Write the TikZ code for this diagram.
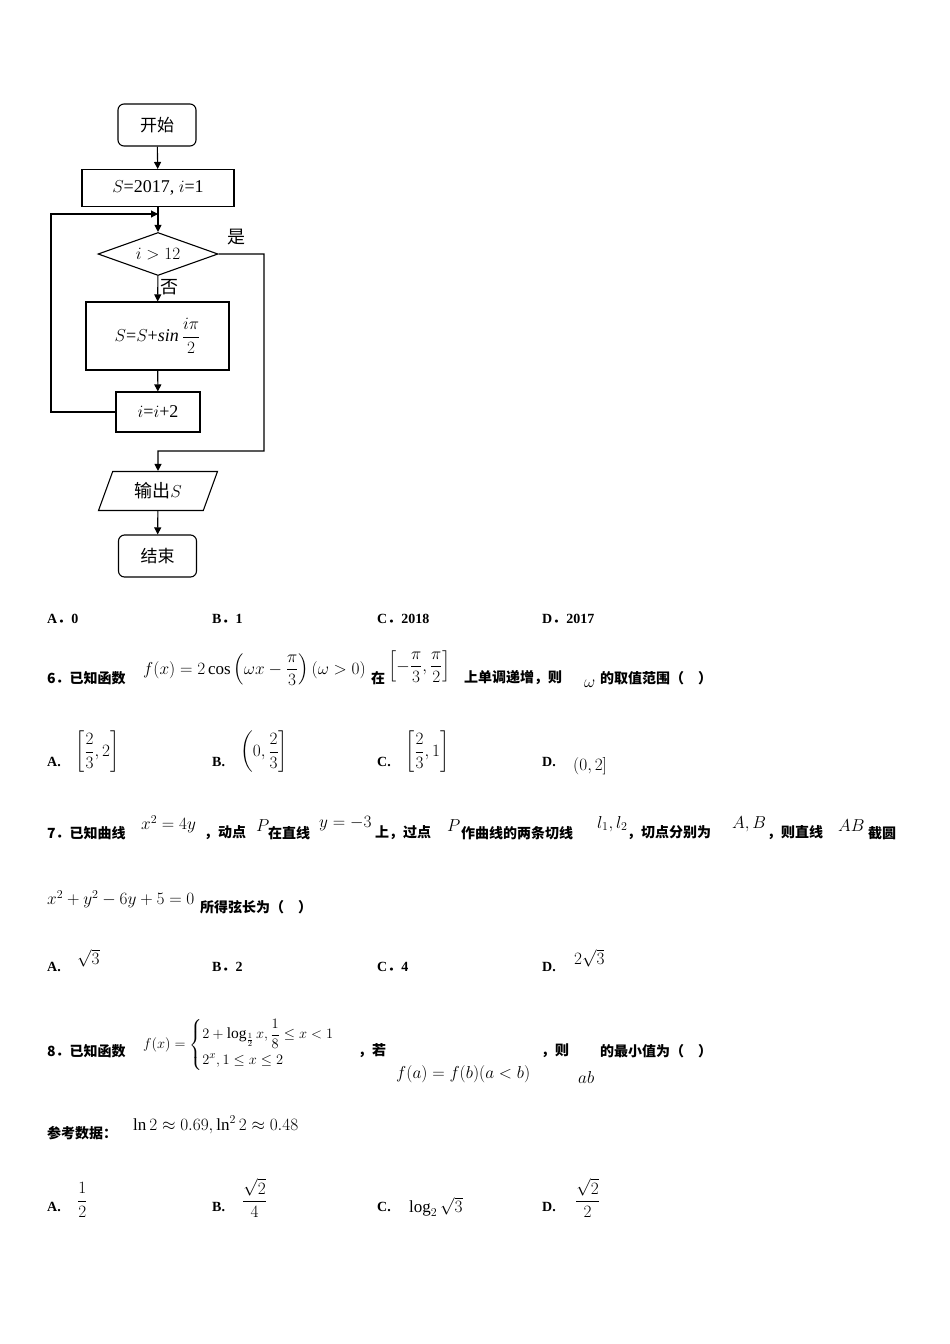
\documentclass[tikz,border=0pt]{standalone}
\usepackage{amsmath}
\usepackage{fontspec}
\setmainfont{Liberation Serif}
\newfontfamily\cjk{Noto Sans CJK SC}
\newcommand{\dd}{{\cjk\bfseries ．}}
\usetikzlibrary{shapes.geometric,arrows.meta}
\tikzset{
  fc/.style={draw,line width=1.1pt},
  term/.style={fc,rounded corners=6pt,minimum width=78pt,minimum height=42pt,font=\fontsize{17}{19}\cjk},
  proc/.style={fc,font=\fontsize{18}{20}\selectfont},
  arr/.style={-{Triangle[length=7pt,width=7pt]},line width=1.1pt},
  txt/.style={anchor=west,inner sep=0pt,font=\fontsize{17}{19}\selectfont},
  cn/.style={anchor=west,inner sep=0pt,font=\fontsize{14}{16}\cjk\bfseries},
  lab/.style={anchor=west,inner sep=0pt,font=\fontsize{14}{16}\bfseries},
}
\begin{document}
\begin{tikzpicture}[x=1pt,y=-1pt]
\useasboundingbox[fill=white] (0,0) rectangle (950,1344);
% flowchart
\node[term] (start) at (157,125) {开始};
\node[proc,minimum width=152pt,minimum height=37pt] (init) at (158,188) {$S$=2017, $i$=1};
\node[fc,diamond,aspect=2.8,minimum width=120pt,minimum height=43pt,inner sep=0pt,font=\fontsize{18}{20}\selectfont] (cond) at (158,254) {$i>12$};
\node[proc,minimum width=143pt,minimum height=68pt] (body) at (157.5,336) {$S$=$S$+\textit{sin}\,$\dfrac{i\pi}{2}$};
\node[proc,minimum width=84pt,minimum height=40pt] (inc) at (158,412) {$i$=$i$+2};
\node[fc,trapezium,trapezium left angle=70,trapezium right angle=110,minimum width=80pt,minimum height=39pt,font=\fontsize{18}{20}\cjk] (out) at (158,491) {输出$S$};
\node[term] (stop) at (157.5,556) {结束};
\coordinate (m) at (158,214);
\draw[arr] (start) -- (init);
\draw[line width=1.1pt] (init) -- (m);
\draw[arr] (m) -- (cond.north);
\draw[arr] (cond) -- (body) node[pos=0.45,right,font=\fontsize{18}{20}\cjk,inner sep=2pt] {否};
\draw[arr] (body) -- (inc);
\draw[arr] (inc.west) -- (51,412) -- (51,214) -- (m);
\draw[arr] (cond.east) -- (264,254) -- (264,451) -- (158,451) -- (out.north);
\node[font=\fontsize{18}{20}\cjk] (yes) at (236,237) {是};
\draw[arr] (out) -- (stop);
% options Q5
\node[lab] (a5) at (47,619) {A\dd 0};
\node[lab] (b5) at (212,619) {B\dd 1};
\node[lab] (c5) at (377,619) {C\dd 2018};
\node[lab] (d5) at (542,619) {D\dd 2017};
% Q6
\node[cn] (q6) at (47,678) {6．已知函数};
\node[txt] (f6) at (143,670) {$f(x)=2\cos\left(\omega x-\dfrac{\pi}{3}\right)(\omega>0)$};
\node[cn] (q6b) at (371,678) {在};
\node[txt] (f6b) at (388,667) {$\left[-\dfrac{\pi}{3},\dfrac{\pi}{2}\right]$};
\node[cn] (q6c) at (464,678) {上单调递增，则};
\node[txt] (w6) at (584,684) {$\omega$};
\node[cn] (q6d) at (600,678) {的取值范围（\quad）};
\node[lab] (a6) at (47,762) {A.};
\node[txt] (a6m) at (75,752) {$\left[\dfrac{2}{3},2\right]$};
\node[lab] (b6) at (212,762) {B.};
\node[txt] (b6m) at (240,752) {$\left(0,\dfrac{2}{3}\right]$};
\node[lab] (c6) at (377,762) {C.};
\node[txt] (c6m) at (405,752) {$\left[\dfrac{2}{3},1\right]$};
\node[lab] (d6) at (542,762) {D.};
\node[txt] (d6m) at (573,766) {$(0,2]$};
% Q7
\node[cn] (q7) at (47,833) {7．已知曲线};
\node[txt] (q7m1) at (141,824) {$x^2=4y$};
\node[cn] (q7b) at (204,833) {，动点};
\node[txt] (q7m2) at (256,826) {$P$};
\node[cn] (q7c) at (268,833) {在直线};
\node[txt] (q7m3) at (319,824) {$y=-3$};
\node[cn] (q7d) at (375,833) {上，过点};
\node[txt] (q7m4) at (447,826) {$P$};
\node[cn] (q7e) at (461,833) {作曲线的两条切线};
\node[txt] (q7m5) at (597,824) {$l_1,l_2$};
\node[cn] (q7f) at (627,833) {，切点分别为};
\node[txt] (q7m6) at (732,824) {$A,B$};
\node[cn] (q7g) at (767,833) {，则直线};
\node[txt] (q7m7) at (838,826) {$AB$};
\node[cn] (q7h) at (868,833) {截圆};
\node[txt] (q7m8) at (47,899) {$x^2+y^2-6y+5=0$};
\node[cn] (q7i) at (200,907) {所得弦长为（\quad）};
\node[lab] (a7) at (47,967) {A.};
\node[txt] (a7m) at (77,958) {$\sqrt{3}$};
\node[lab] (b7) at (212,967) {B\dd 2};
\node[lab] (c7) at (377,967) {C\dd 4};
\node[lab] (d7) at (542,967) {D.};
\node[txt] (d7m) at (574,958) {$2\sqrt{3}$};
% Q8
\node[cn] (q8) at (47,1051) {8．已知函数};
\node[txt,font=\fontsize{15.5}{18}\selectfont] (f8) at (143,1045) {$f(x)=\begin{cases}2+\log_{\frac12}x,\dfrac18\le x<1\\[4pt] 2^x,1\le x\le2\end{cases}$};
\node[cn] (q8b) at (358,1051) {，若};
\node[txt] (q8m) at (396,1074) {$f(a)=f(b)(a<b)$};
\node[cn] (q8c) at (541,1051) {，则};
\node[txt] (q8m2) at (578,1077) {$ab$};
\node[cn] (q8d) at (600,1051) {的最小值为（\quad）};
\node[cn] (ref) at (47,1133) {参考数据：};
\node[txt] (refm) at (133,1125) {$\ln 2\approx0.69,\ln^2 2\approx0.48$};
\node[lab] (a8) at (47,1207) {A.};
\node[txt] (a8m) at (77,1200) {$\dfrac{1}{2}$};
\node[lab] (b8) at (212,1207) {B.};
\node[txt] (b8m) at (242,1198) {$\dfrac{\sqrt2}{4}$};
\node[lab] (c8) at (377,1207) {C.};
\node[txt] (c8m) at (409,1207) {$\log_2\sqrt3$};
\node[lab] (d8) at (542,1207) {D.};
\node[txt] (d8m) at (575,1198) {$\dfrac{\sqrt2}{2}$};
\end{tikzpicture}
\end{document}
